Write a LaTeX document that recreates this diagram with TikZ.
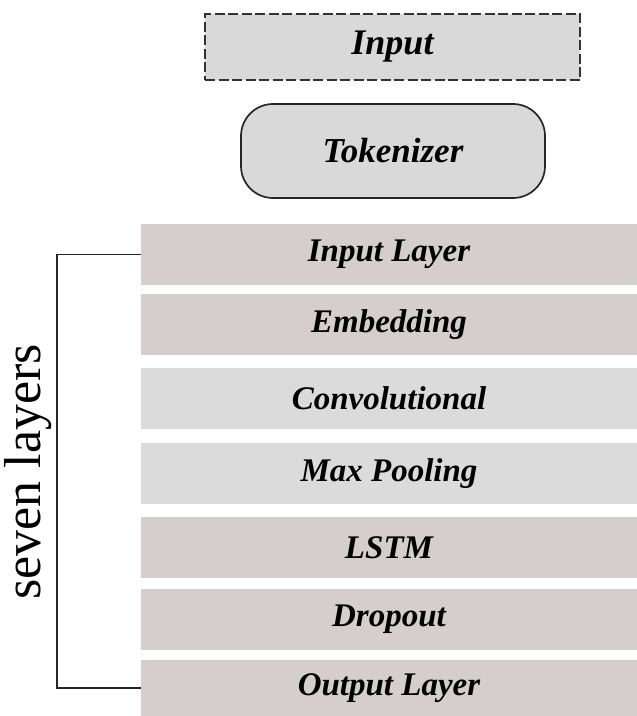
\documentclass[tikz,border=0pt]{standalone}
\usepackage{fontspec}
\setmainfont{Liberation Serif}
\usepackage{tikz}

\definecolor{layerdark}{RGB}{212,206,207}
\definecolor{layerlight}{RGB}{219,219,219}
\definecolor{topfill}{RGB}{217,217,217}

\begin{document}
\begin{tikzpicture}[x=1pt,y=-1pt,
    every node/.style={font=\bfseries\itshape\fontsize{33}{40}\selectfont, inner sep=0pt},
    layerbox/.style={fill=layerdark, minimum width=496pt, minimum height=61pt},
    lightbox/.style={layerbox, fill=layerlight}]
            \useasboundingbox (0,0) rectangle (637,716);
            \draw (392.5,47) node[draw=black!80, fill=topfill, line width=1.7pt, dash pattern=on 10pt off 3.5pt, minimum width=375pt, minimum height=66pt, font=\bfseries\itshape\fontsize{36}{42}\selectfont](in){Input};
            \draw (393,151) node[draw=black!85, fill=topfill, line width=1.7pt, rounded corners=32pt, minimum width=304pt, minimum height=94pt, font=\bfseries\itshape\fontsize{35}{42}\selectfont](tok){Tokenizer};
            \draw (389,254.5) node[layerbox](il){Input Layer};
            \draw (389,324.5) node[layerbox](emb){Embedding};
            \draw (389,398) node[lightbox](conv){Convolutional};
            \draw (389,473.5) node[lightbox](pool){Max Pooling};
            \draw (389,547.5) node[layerbox](lstm){LSTM};
            \draw (389,619.5) node[layerbox](drop){Dropout};
            \draw (389,688) node[layerbox, minimum height=56pt](ol){Output Layer};
            % bracket round the seven layers
            \coordinate (brk) at (57,470);
            \draw[line width=1.5pt, black!85] (il.west) -| (brk) |- (ol.west);
            \draw (28,472) node[rotate=90, font=\fontsize{52}{58}\selectfont](lbl){seven layers};
        \end{tikzpicture}
\end{document}
